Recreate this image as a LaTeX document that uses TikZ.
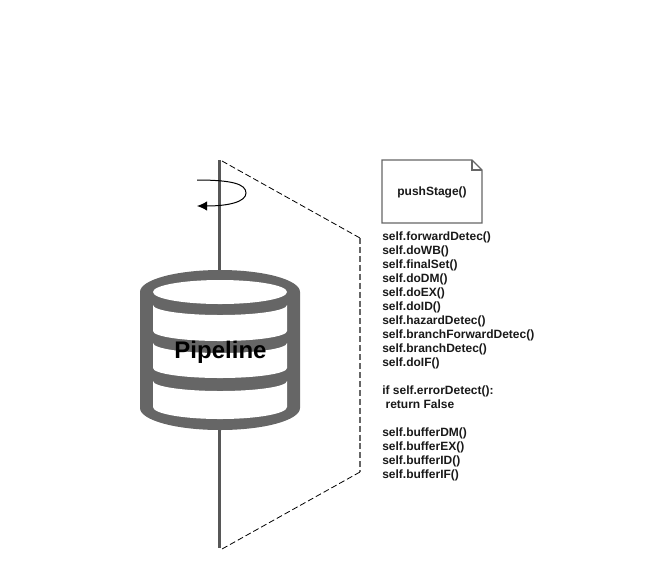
\documentclass[tikz,border=0pt]{standalone}
\usepackage{fontspec}
\setmainfont{Liberation Sans}
\usetikzlibrary{arrows.meta}
\definecolor{band}{HTML}{666666}
\newcommand{\bulge}[4]{.. controls (#1,{#3+0.5523*(#4)}) and ({(#1+#2)/2+0.5523*(#1-#2)/2},{#3+(#4)}) .. ({(#1+#2)/2},{#3+(#4)}) .. controls ({(#1+#2)/2-0.5523*(#1-#2)/2},{#3+(#4)}) and (#2,{#3+0.5523*(#4)}) .. (#2,#3)}
\tikzset{
  x=0.75pt,y=-0.75pt,
  axisline/.style={draw=band!85!black,line width=2pt},
  dashline/.style={draw=black,line width=0.6pt,dash pattern=on 4.5pt off 2.2pt},
  notebox/.style={draw=band,line width=0.9pt},
  codetext/.style={font=\bfseries\fontsize{9}{10.5}\selectfont,align=left,anchor=north west,inner sep=0pt,text=black!90},
}
\begin{document}
\begin{tikzpicture}
\useasboundingbox (0,0) rectangle (666,572);
\coordinate (axt) at (219.5,160);
\coordinate (axb) at (219.5,548);
\coordinate (pa) at (222,161);
\coordinate (pb) at (360,238);
\coordinate (pc) at (360,472);
\coordinate (pd) at (222,549);
\coordinate (rs) at (197,180);
\coordinate (re) at (197,206);
% axis
\draw[axisline] (axt) -- (axb);
% plane
\draw[dashline] (pa) -- (pb);
\draw[dashline,draw=band,line width=0.9pt] (pb) -- (pc);
\draw[dashline] (pc) -- (pd);
% rotation arrow
\draw[black,line width=0.75pt,-{Latex[length=7.5pt,width=7pt]}] (rs) .. controls (232,180) and (246,184) .. (246,193) .. controls (246,202) and (228,206) .. (re);
% cylinder
\fill[band] (140,292) \bulge{140}{300}{292}{-22} -- (300,408) \bulge{300}{140}{408}{22} -- cycle;
\fill[white] (153,292) \bulge{153}{287}{292}{-12} \bulge{287}{153}{292}{12} -- cycle;
\fill[white] (153,305) \bulge{153}{287}{305}{10} -- (287,331) \bulge{287}{153}{331}{10} -- cycle;
\fill[white] (153,343) \bulge{153}{287}{343}{10} -- (287,368) \bulge{287}{153}{368}{10} -- cycle;
\fill[white] (153,381) \bulge{153}{287}{381}{10} -- (287,407) \bulge{287}{153}{407}{12} -- cycle;
\node[font=\bfseries\fontsize{18}{20}\selectfont,text=black,inner sep=0pt] (pipe) at (220.5,352) {Pipeline};
% note
\draw[notebox,fill=white] (382,160) -- (472,160) -- (482,170) -- (482,223) -- (382,223) -- cycle;
\draw[notebox] (472,160) -- (472,170) -- (482,170);
\node[font=\bfseries\fontsize{9}{11}\selectfont,text=black!90,inner sep=0pt] (note) at (432,192) {pushStage()};
\node[codetext] (code) at (382,232) {self.forwardDetec()\\self.doWB()\\self.finalSet()\\self.doDM()\\self.doEX()\\self.doID()\\self.hazardDetec()\\self.branchForwardDetec()\\self.branchDetec()\\self.doIF()\\[10.5pt]if self.errorDetect():\\\ return False\\[10.5pt]self.bufferDM()\\self.bufferEX()\\self.bufferID()\\self.bufferIF()};
\end{tikzpicture}
\end{document}
